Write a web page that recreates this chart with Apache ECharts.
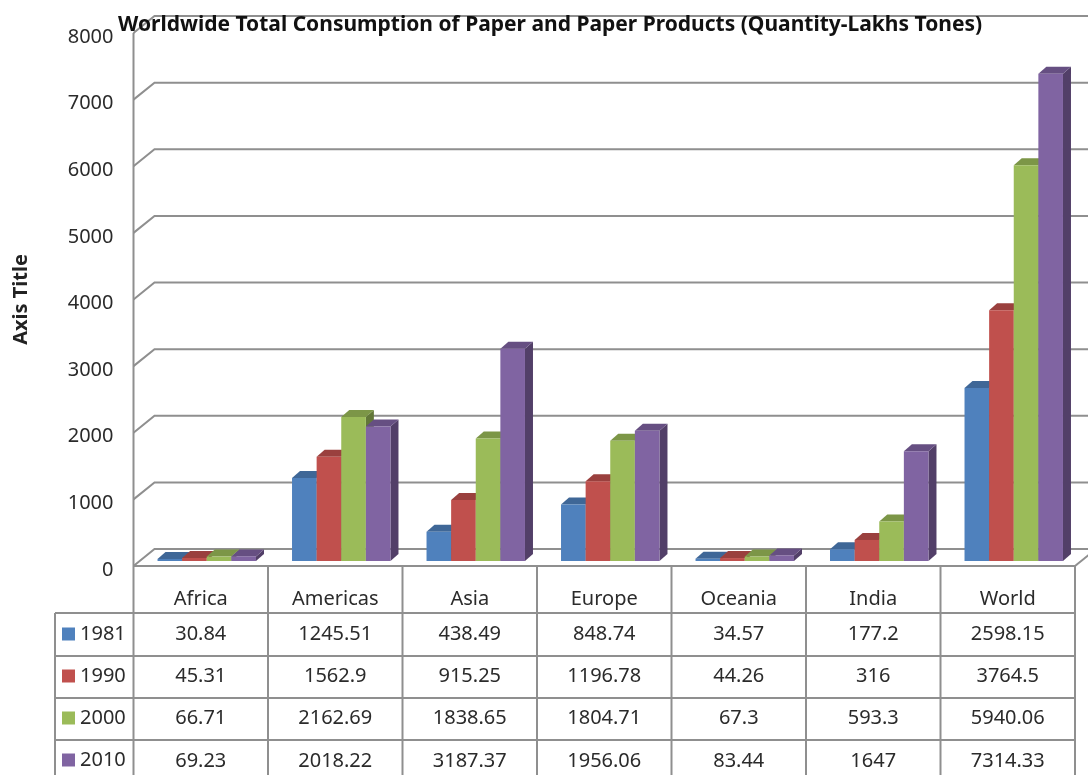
<!DOCTYPE html>
<html><head><meta charset="utf-8">
<style>html,body{margin:0;padding:0;background:#fff;overflow:hidden}#c{width:1088px;height:775px}</style>
<script src="https://cdn.jsdelivr.net/npm/echarts@6/dist/echarts.min.js"></script>
</head><body><div id="c"></div>
<script>
var categories = ['Africa','Americas','Asia','Europe','Oceania','India','World'];
var years = ['1981','1990','2000','2010'];
var v1981 = [30.84,1245.51,438.49,848.74,34.57,177.2,2598.15];
var v1990 = [45.31,1562.9,915.25,1196.78,44.26,316,3764.5];
var v2000 = [66.71,2162.69,1838.65,1804.71,67.3,593.3,5940.06];
var v2010 = [69.23,2018.22,3187.37,1956.06,83.44,1647,7314.33];
var yTicks = [0,1000,2000,3000,4000,5000,6000,7000,8000];
var seriesValues = [v1981,v1990,v2000,v2010];
var faceColors = ['#4f81bd','#c0504d','#9bbb59','#8064a2'];
var topColors  = ['#3f6797','#9a403e','#7c9647','#664f82'];
var sideColors = ['#345478','#7a3331','#627738','#523f68'];
var FONT = '"Noto Sans", sans-serif';
var TEXT = '#2b2b2b', RULE = '#8f8f8f';
var G = {left:133.5, top:33, width:941.5, height:533};
var rowLines = [613,656,698,740];
var rowText = [634,676,718,761];

function barItem(si){
  return function(params, api){
    var c = api.value(0), v = api.value(1);
    var p = api.coord([c, v]), b = api.coord([c, 0]);
    var groupW = api.size([1,0])[0] * 0.732, w = groupW / 4;
    var x0 = p[0] + 6 - groupW/2 + si*w, x1 = x0 + w;
    var yT = p[1] - 5, yB = b[1] - 5, dx = 8, dy = 7;
    return {type:'group', children:[
      {type:'polygon', shape:{points:[[x1,yT],[x1+dx,yT-dy],[x1+dx,yB-dy],[x1,yB]]}, style:{fill:sideColors[si]}},
      {type:'polygon', shape:{points:[[x0,yT],[x0+dx,yT-dy],[x1+dx,yT-dy],[x1,yT]]}, style:{fill:topColors[si]}},
      {type:'rect', shape:{x:x0,y:yT,width:w,height:yB-yT}, style:{fill:faceColors[si]}},
      {type:'text', x:p[0], y:rowText[si], style:{text:String(v), fill:TEXT, font:'20px '+FONT, textAlign:'center', textVerticalAlign:'middle'}}
    ]};
  };
}
function gridItem(params, api){
  var p = api.coord([0, api.value(0)]);
  var cs = params.coordSys, x = cs.x, dx = 21, dy = 17;
  return {type:'polyline', shape:{points:[[x,p[1]],[x+dx,p[1]-dy],[x+cs.width+dx,p[1]-dy]]},
    style:{stroke:RULE, lineWidth:2, fill:null}};
}
var series = [{type:'custom', name:'grid3d', silent:true, clip:false, z:1, renderItem:gridItem, encode:{y:0},
  data: yTicks.map(function(t){return [t];})}];
years.forEach(function(y,si){
  series.push({type:'custom', name:y, clip:false, z:2, renderItem:barItem(si), itemStyle:{color:faceColors[si]},
    encode:{x:0,y:1}, data: seriesValues[si].map(function(v,i){return [i,v];})});
});
var rules = [];
function rule(a,b,c,d){rules.push({type:'line', z:5, silent:true, shape:{x1:a,y1:b,x2:c,y2:d}, style:{stroke:RULE,lineWidth:2}});}
var right = G.left+G.width;
rowLines.forEach(function(y){rule(55,y,right,y);});
rule(55,613,55,775);
rule(G.left,G.top,G.left,775);
rule(G.left,G.top+G.height,right,G.top+G.height);
for(var i=1;i<=categories.length;i++){var x=G.left+i*G.width/categories.length; rule(x,566,x,775);}
rule(right,566,1096,549);

var chart = echarts.init(document.getElementById('c'),null,{renderer:'canvas'});
chart.setOption({
  animation:false, backgroundColor:'#fff',
  title:{text:'Worldwide Total Consumption of Paper and Paper Products (Quantity-Lakhs Tones)', left:118, top:15, padding:0,
    textStyle:{fontFamily:FONT,fontSize:21,fontWeight:'bold',color:'#111'}},
  legend:{orient:'vertical', left:62, top:624, padding:0, itemWidth:13, itemHeight:13, itemGap:22, icon:'rect',
    data:years, selectedMode:false, textStyle:{fontFamily:FONT,fontSize:20,color:TEXT,lineHeight:20,padding:[0,0,0,0]}},
  grid:G,
  xAxis:{type:'category', data:categories, axisTick:{show:false}, axisLine:{show:false},
    axisLabel:{margin:23,fontFamily:FONT,fontSize:20,color:TEXT,interval:0}},
  yAxis:{type:'value', min:0, max:8000, interval:1000, splitLine:{show:false}, axisTick:{show:false}, axisLine:{show:false},
    name:'Axis Title', nameLocation:'middle', nameGap:102, nameRotate:90,
    nameTextStyle:{fontFamily:FONT,fontSize:20,fontWeight:'bold',color:'#222'},
    axisLabel:{margin:20,fontFamily:FONT,fontSize:20,color:TEXT,verticalAlign:'top',lineHeight:8,formatter:function(v){return String(v);}}},
  graphic:rules,
  series:series
});
</script></body></html>
